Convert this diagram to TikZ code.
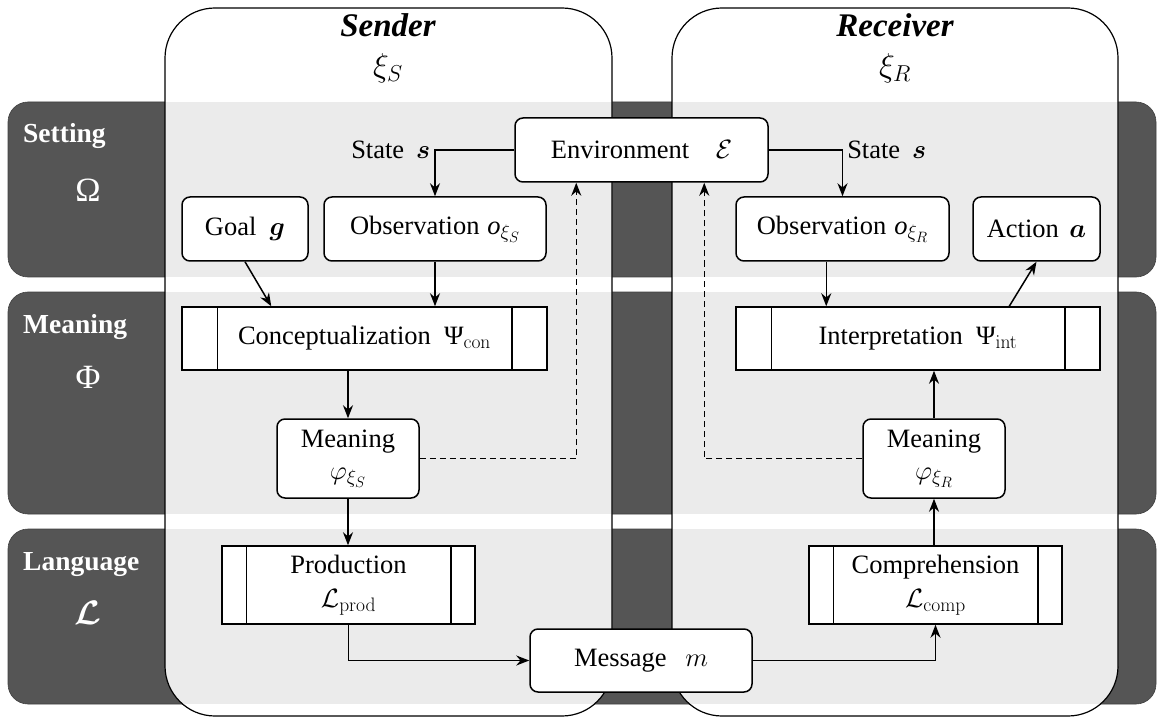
\RequirePackage{fix-cm}
\documentclass[tikz,border=0pt]{standalone}
\usepackage{amsmath,bm}
\usepackage[no-math]{fontspec}
\setmainfont{Liberation Serif}
\usetikzlibrary{arrows.meta,calc}
\DeclareMathSizes{26.5}{26.5}{19.5}{15}
\DeclareMathSizes{27.5}{27.5}{20}{15}
\DeclareMathSizes{33}{33}{23}{17}
\DeclareMathSizes{34}{34}{24}{17}
\definecolor{darkband}{HTML}{555555}
\definecolor{lightband}{HTML}{EBEBEB}
\newcommand\myNodeFont{\fontsize{26.5}{32}\selectfont}
\newcommand\myBandFont{\fontsize{27.5}{32}\selectfont\bfseries}
\newcommand\myTitleFont{\fontsize{33}{38}\selectfont}
\newcommand\myPsi{\mbox{Ψ}}
\tikzset{
  box/.style={draw, line width=1.5pt, fill=white, rounded corners=8pt, inner sep=0pt, align=center, font=\myNodeFont},
  procbox/.style={draw, line width=1.5pt, fill=white, inner sep=0pt, align=center, font=\myNodeFont},
  arr/.style={-{Stealth[length=13pt,width=10pt]}, line width=1.5pt},
  dasharr/.style={arr, dash pattern=on 6pt off 4pt},
  band/.style={fill=darkband, draw=black!75, line width=0.6pt, rounded corners=20pt},
  lbl/.style={font=\myNodeFont, inner sep=4pt},
  bandlbl/.style={text=white, font=\myBandFont, anchor=base west, inner sep=0pt},
  bandsym/.style={text=white, font=\fontsize{34}{38}\selectfont, inner sep=0pt},
  colshape/.style={rounded corners=50pt},
}
\begin{document}
\begin{tikzpicture}[x=1pt,y=-1pt]
\useasboundingbox (0,0) rectangle (1164,719);
% dark bands
\path[band] (8,102) rectangle (1156,277);
\path[band] (8,292) rectangle (1156,514);
\path[band] (8,529) rectangle (1156,704);
% columns
\path[fill=white, colshape] (165,8) rectangle (612,716);
\path[fill=white, colshape] (672,8) rectangle (1118,716);
\begin{scope}
  \clip[colshape] (165,8) rectangle (612,716) (672,8) rectangle (1118,716);
  \fill[lightband] (0,102) rectangle (1164,277);
  \fill[lightband] (0,292) rectangle (1164,514);
  \fill[lightband] (0,529) rectangle (1164,704);
\end{scope}
\draw[colshape, line width=1.2pt] (165,8) rectangle (612,716);
\draw[colshape, line width=1.2pt] (672,8) rectangle (1118,716);
% band labels
\node[bandlbl] (lset) at (23,143) {Setting};
\node[bandsym] (lomega) at (88,190) {Ω};
\node[bandlbl] (lmean) at (23,333) {Meaning};
\node[bandsym] (lphi) at (88,377) {Φ};
\node[bandlbl] (llang) at (23,570) {Language};
\node[bandsym] (lL) at (88,613) {$\bm{\mathcal{L}}$};
% titles
\node[font=\myTitleFont\bfseries\itshape, anchor=base, inner sep=0pt] (tsend) at (388,37) {Sender};
\node[font=\myTitleFont, anchor=base, inner sep=0pt] (tsendxi) at (388,77) {$\xi_S$};
\node[font=\myTitleFont\bfseries\itshape, anchor=base, inner sep=0pt] (trec) at (895,37) {Receiver};
\node[font=\myTitleFont, anchor=base, inner sep=0pt] (trecxi) at (895,77) {$\xi_R$};
% nodes
\node[box, minimum width=253pt, minimum height=64pt] (env) at (641.5,150) {Environment\quad$\mathcal{E}$};
\node[box, minimum width=126pt, minimum height=64pt] (goal) at (245,229) {Goal\hspace{0.5em}$\bm{g}$};
\node[box, minimum width=222pt, minimum height=64pt] (obsS) at (435,229) {Observation\hspace{0.3em}$\textit{o}_{\xi_S}$};
\node[box, minimum width=213pt, minimum height=64pt] (obsR) at (842.5,229) {Observation\hspace{0.3em}$\textit{o}_{\xi_R}$};
\node[box, minimum width=127pt, minimum height=64pt] (action) at (1036.5,229) {Action\hspace{0.4em}$\bm{a}$};
\node[procbox, minimum width=365pt, minimum height=63pt] (conc) at (364.5,338.5) {Conceptualization\hspace{0.5em}$\myPsi_{\mathrm{con}}$};
\node[procbox, minimum width=364pt, minimum height=63pt] (interp) at (918,338.5) {Interpretation\hspace{0.5em}$\myPsi_{\mathrm{int}}$};
\node[box, minimum width=142pt, minimum height=79pt] (meanS) at (348,458.5) {Meaning\\$\varphi_{\xi_S}$};
\node[box, minimum width=142pt, minimum height=79pt] (meanR) at (934,458.5) {Meaning\\$\varphi_{\xi_R}$};
\node[procbox, minimum width=253pt, minimum height=78pt] (prod) at (348.5,585) {Production\\[2pt]$\mathcal{L}_{\mathrm{prod}}$};
\node[procbox, minimum width=253pt, minimum height=78pt] (comp) at (935.5,585) {Comprehension\\[2pt]$\mathcal{L}_{\mathrm{comp}}$};
\node[box, minimum width=222pt, minimum height=63pt] (msg) at (641,660.5) {Message\hspace{0.7em}$m$};
% process inner lines
\draw[line width=1.5pt] ($(conc.north west)+(36,0)$) -- ($(conc.south west)+(36,0)$);
\draw[line width=1.5pt] ($(conc.north east)+(-36,0)$) -- ($(conc.south east)+(-36,0)$);
\draw[line width=1.5pt] ($(interp.north west)+(36,0)$) -- ($(interp.south west)+(36,0)$);
\draw[line width=1.5pt] ($(interp.north east)+(-36,0)$) -- ($(interp.south east)+(-36,0)$);
\draw[line width=1.5pt] ($(prod.north west)+(25,0)$) -- ($(prod.south west)+(25,0)$);
\draw[line width=1.5pt] ($(prod.north east)+(-25,0)$) -- ($(prod.south east)+(-25,0)$);
\draw[line width=1.5pt] ($(comp.north west)+(25,0)$) -- ($(comp.south west)+(25,0)$);
\draw[line width=1.5pt] ($(comp.north east)+(-25,0)$) -- ($(comp.south east)+(-25,0)$);
% helper coordinates
\coordinate (concin) at ($(conc.north west)+(90,0)$);
\coordinate (interpin) at ($(interp.north west)+(91,0)$);
\coordinate (interpout) at ($(interp.north west)+(274,0)$);
\coordinate (envinS) at ($(env.south west)+(62,0)$);
\coordinate (envinR) at ($(env.south west)+(190,0)$);
% connectors
\draw[arr] (env.west) -| node[pos=0.5, lbl, left] {State\hspace{0.45em}$\bm{s}$} (obsS.north);
\draw[arr] (env.east) -| node[pos=0.5, lbl, right] {State\hspace{0.45em}$\bm{s}$} (obsR.north);
\draw[arr] (goal.south) -- (concin);
\draw[arr] (obsS.south) -- (obsS.south |- conc.north);
\draw[arr] (meanS.north |- conc.south) -- (meanS.north);
\draw[arr] (meanS.south) -- (meanS.south |- prod.north);
\draw[arr] (prod.south) |- (msg.west);
\draw[arr] (msg.east) -| (comp.south);
\draw[arr] (comp.north -| meanR.south) -- (meanR.south);
\draw[arr] (meanR.north) -- (meanR.north |- interp.south);
\draw[arr] (interpin |- obsR.south) -- (interpin);
\draw[arr] (interpout) -- (action.south);
\draw[dasharr] (meanS.east) -| (envinS);
\draw[dasharr] (meanR.west) -| (envinR);
\end{tikzpicture}
\end{document}
